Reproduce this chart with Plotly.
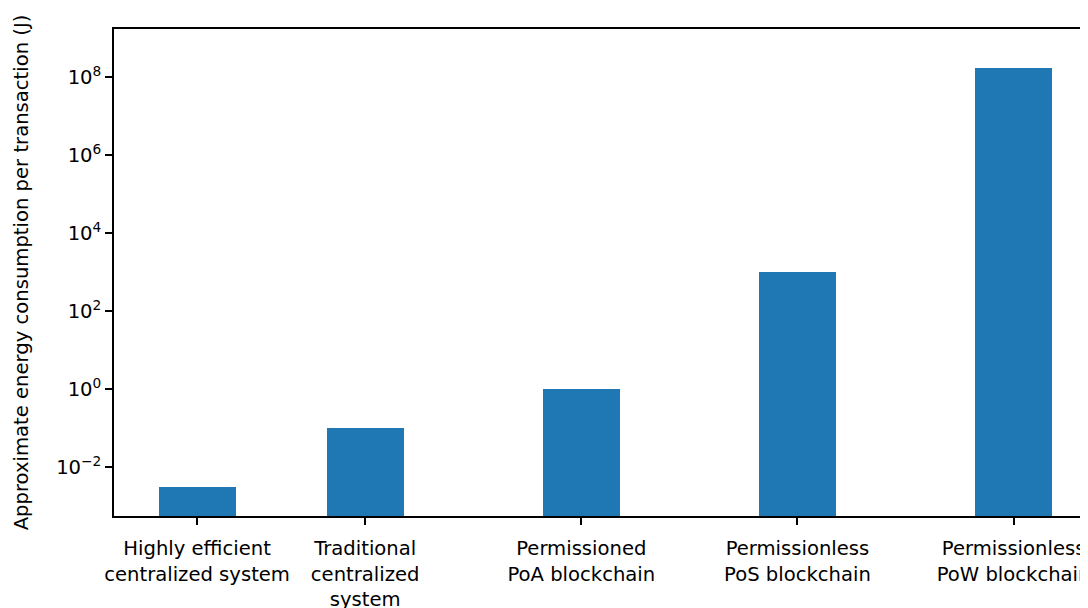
import plotly.graph_objects as go

categories = [
    "Highly efficient<br>centralized system",
    "Traditional<br>centralized<br>system",
    "Permissioned<br>PoA blockchain",
    "Permissionless<br>PoS blockchain",
    "Permissionless<br>PoW blockchain",
]
x_positions = [0.0, 0.7, 1.6, 2.5, 3.4]
energy_j = [3e-3, 1e-1, 1.0, 1e3, 1.8e8]
ytick_vals = [1e-2, 1e0, 1e2, 1e4, 1e6, 1e8]
ytick_text = ["10<sup>\u22122</sup>", "10<sup>0</sup>", "10<sup>2</sup>",
              "10<sup>4</sup>", "10<sup>6</sup>", "10<sup>8</sup>"]

FONT = "DejaVu Sans"
FS = 19.6

fig = go.Figure()
fig.add_trace(go.Bar(
    x=x_positions, y=energy_j, width=0.32,
    marker=dict(color="#1f77b4", line=dict(width=0)),
))

fig.update_layout(
    width=1080, height=600,
    margin=dict(l=106, r=0, t=21, b=92, autoexpand=False),
    paper_bgcolor="white", plot_bgcolor="white",
    font=dict(family=FONT, size=FS, color="black"),
    showlegend=False,
    bargap=0,
)
fig.update_xaxes(
    range=[-0.346, 3.71],
    tickvals=x_positions, ticktext=categories,
    ticks="outside", ticklen=7, tickwidth=1.5, tickcolor="black",
    showline=True, linewidth=1.5, linecolor="black", mirror=True,
    showgrid=False, zeroline=False, automargin=False,
    ticklabelstandoff=7, ticklabeloverflow="allow",
    tickfont=dict(family=FONT, size=FS, color="black"),
)
fig.update_yaxes(
    type="log", range=[-3.257, 9.244],
    tickvals=ytick_vals, ticktext=ytick_text,
    ticks="outside", ticklen=7, tickwidth=1.5, tickcolor="black",
    showline=True, linewidth=1.5, linecolor="black", mirror=False,
    showgrid=False, zeroline=False, automargin=False,
    tickfont=dict(family=FONT, size=FS, color="black"),
    title=dict(text="Approximate energy consumption per transaction (J)",
               font=dict(family=FONT, size=FS, color="black"), standoff=22),
)

fig.write_html("out.html")
